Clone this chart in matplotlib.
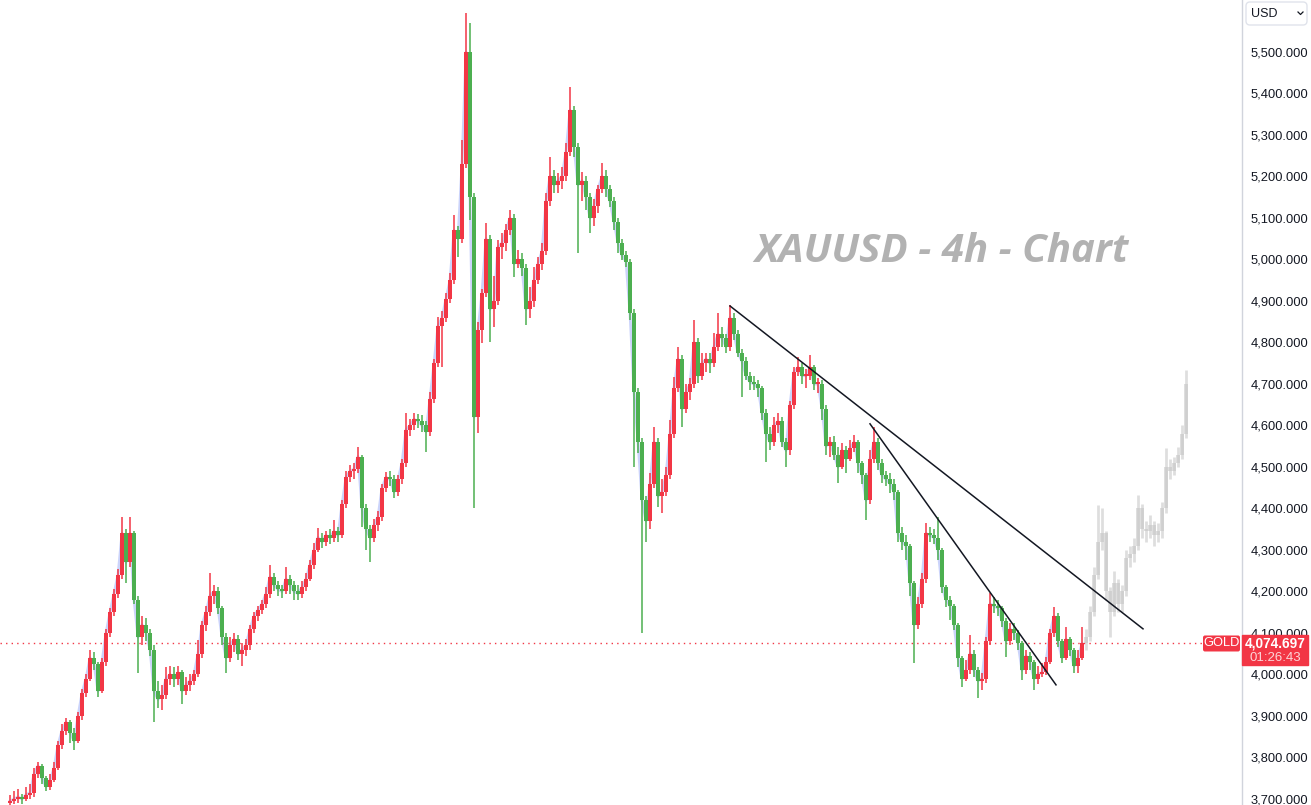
import numpy as np
import matplotlib
matplotlib.use('Agg')
import matplotlib.pyplot as plt
from matplotlib.patches import Rectangle, FancyBboxPatch
from matplotlib.lines import Line2D
from matplotlib.transforms import IdentityTransform

plt.rcParams['font.family'] = ['Liberation Sans', 'DejaVu Sans']

# 4h candles, open = previous close
first_open = 3690
closes = [3695, 3700, 3705, 3700, 3710, 3715, 3760, 3780, 3750, 3730,
          3745, 3775, 3830, 3865, 3885, 3860, 3840, 3900, 3955, 3990,
          4040, 4025, 3960, 4030, 4100, 4150, 4195, 4240, 4340, 4270,
          4340, 4180, 4090, 4120, 4100, 4060, 3960, 3940, 3950, 3990,
          4000, 3990, 4005, 3960, 3975, 3985, 4000, 4050, 4120, 4150,
          4190, 4200, 4160, 4090, 4040, 4070, 4085, 4050, 4060, 4070,
          4110, 4140, 4155, 4170, 4195, 4235, 4215, 4205, 4200, 4230,
          4215, 4200, 4195, 4210, 4230, 4265, 4300, 4330, 4320, 4335,
          4330, 4345, 4335, 4410, 4475, 4490, 4495, 4525, 4400, 4350,
          4330, 4360, 4380, 4450, 4475, 4470, 4440, 4470, 4510, 4590,
          4600, 4615, 4610, 4600, 4585, 4665, 4750, 4840, 4860, 4905,
          4950, 5070, 5050, 5230, 5500, 5150, 4620, 4830, 4920, 5050,
          4880, 4900, 5030, 5040, 5070, 5100, 4990, 5000, 4980, 4880,
          4900, 4950, 4990, 5020, 5140, 5200, 5180, 5190, 5200, 5260,
          5360, 5270, 5180, 5190, 5150, 5100, 5130, 5170, 5200, 5170,
          5140, 5090, 5040, 5010, 4995, 4870, 4680, 4560, 4420, 4370,
          4460, 4560, 4430, 4440, 4480, 4580, 4690, 4760, 4640, 4680,
          4700, 4800, 4720, 4750, 4760, 4750, 4790, 4820, 4810, 4790,
          4860, 4820, 4775, 4755, 4720, 4705, 4700, 4690, 4630, 4580,
          4560, 4600, 4610, 4560, 4540, 4650, 4730, 4740, 4720, 4720,
          4740, 4700, 4700, 4640, 4550, 4560, 4530, 4500, 4540, 4520,
          4545, 4560, 4510, 4480, 4420, 4520, 4560, 4510, 4480, 4470,
          4460, 4440, 4340, 4320, 4310, 4220, 4120, 4170, 4230, 4340,
          4335, 4330, 4300, 4210, 4180, 4165, 4120, 4040, 3990, 4010,
          4050, 4010, 3985, 3990, 4080, 4170, 4165, 4160, 4130, 4080,
          4110, 4100, 4075, 4010, 4045, 4030, 3990, 4000, 4005, 4030,
          4100, 4140, 4080, 4040, 4085, 4060, 4020, 4040, 4074.697]
highs = [3710, 3720, 3725, 3712, 3730, 3735, 3775, 3790, 3785, 3755,
         3760, 3790, 3840, 3880, 3895, 3890, 3870, 3910, 3965, 4000,
         4059, 4055, 4030, 4040, 4110, 4160, 4205, 4255, 4380, 4350,
         4380, 4345, 4190, 4140, 4135, 4110, 4070, 3985, 3975, 4018,
         4020, 4018, 4020, 4012, 3995, 4000, 4010, 4083, 4130, 4165,
         4244, 4215, 4210, 4165, 4100, 4090, 4100, 4095, 4076, 4085,
         4120, 4150, 4165, 4180, 4210, 4263, 4245, 4225, 4215, 4259,
         4240, 4225, 4215, 4225, 4245, 4276, 4317, 4353, 4340, 4345,
         4350, 4373, 4355, 4420, 4490, 4505, 4510, 4548, 4530, 4410,
         4360, 4375, 4395, 4460, 4487, 4490, 4480, 4480, 4520, 4630,
         4615, 4630, 4628, 4625, 4610, 4680, 4760, 4862, 4875, 4920,
         4967, 5107, 5080, 5288, 5594, 5570, 5160, 4850, 4930, 5088,
         5060, 4960, 5047, 5064, 5085, 5119, 5110, 5023, 5015, 4990,
         4933, 4982, 5005, 5040, 5160, 5247, 5215, 5209, 5223, 5280,
         5416, 5370, 5280, 5210, 5200, 5160, 5145, 5180, 5232, 5215,
         5180, 5150, 5100, 5050, 5020, 5000, 4880, 4690, 4570, 4430,
         4485, 4596, 4570, 4470, 4500, 4613, 4717, 4790, 4770, 4700,
         4715, 4854, 4810, 4774, 4775, 4775, 4823, 4871, 4837, 4820,
         4890, 4870, 4830, 4785, 4765, 4730, 4720, 4710, 4695, 4640,
         4596, 4620, 4630, 4620, 4570, 4660, 4741, 4765, 4750, 4735,
         4770, 4745, 4715, 4710, 4650, 4572, 4575, 4548, 4558, 4550,
         4565, 4577, 4565, 4515, 4485, 4541, 4596, 4570, 4520, 4490,
         4485, 4470, 4445, 4356, 4335, 4315, 4225, 4187, 4245, 4365,
         4356, 4350, 4380, 4305, 4215, 4190, 4170, 4125, 4045, 4035,
         4095, 4060, 4018, 4003, 4090, 4196, 4187, 4180, 4165, 4135,
         4124, 4125, 4107, 4080, 4060, 4055, 4035, 4020, 4028, 4042,
         4110, 4163, 4148, 4085, 4115, 4090, 4065, 4060, 4115]
lows = [3685, 3688, 3690, 3688, 3695, 3700, 3705, 3750, 3735, 3720,
        3722, 3740, 3770, 3820, 3855, 3835, 3818, 3835, 3890, 3945,
        3985, 4010, 3946, 3955, 4020, 4090, 4140, 4185, 4230, 4220,
        4260, 4170, 4004, 4070, 4080, 4045, 3886, 3920, 3915, 3940,
        3975, 3970, 3975, 3930, 3950, 3960, 3975, 3995, 4040, 4105,
        4140, 4170, 4145, 4070, 4004, 4030, 4055, 4035, 4020, 4045,
        4060, 4100, 4130, 4145, 4160, 4185, 4200, 4190, 4185, 4195,
        4195, 4180, 4180, 4185, 4200, 4225, 4255, 4295, 4305, 4310,
        4315, 4320, 4320, 4330, 4400, 4465, 4470, 4485, 4356, 4300,
        4271, 4320, 4345, 4370, 4440, 4455, 4425, 4430, 4460, 4500,
        4575, 4590, 4595, 4585, 4536, 4575, 4655, 4740, 4740, 4850,
        4895, 4940, 5006, 5040, 5220, 5095, 4401, 4582, 4798, 4910,
        4800, 4837, 4890, 5000, 5020, 5060, 4958, 4980, 4960, 4842,
        4860, 4886, 4940, 4975, 5010, 5130, 5160, 5160, 5170, 5190,
        5250, 5247, 5016, 5140, 5120, 5064, 5080, 5112, 5160, 5150,
        5127, 5071, 5016, 4998, 4982, 4854, 4500, 4533, 4100, 4320,
        4350, 4450, 4404, 4389, 4430, 4470, 4570, 4680, 4596, 4630,
        4661, 4690, 4702, 4710, 4730, 4726, 4740, 4780, 4790, 4774,
        4780, 4806, 4765, 4669, 4710, 4685, 4685, 4669, 4613, 4512,
        4540, 4550, 4582, 4548, 4500, 4530, 4640, 4720, 4700, 4690,
        4710, 4685, 4678, 4613, 4530, 4524, 4517, 4461, 4495, 4485,
        4515, 4535, 4485, 4460, 4373, 4410, 4510, 4493, 4461, 4455,
        4437, 4420, 4320, 4300, 4276, 4190, 4028, 4110, 4160, 4220,
        4320, 4315, 4276, 4196, 4163, 4131, 4107, 4018, 3970, 3985,
        4000, 3994, 3943, 3962, 3980, 4070, 4148, 4140, 4115, 4042,
        4070, 4083, 4060, 3987, 4000, 4010, 3962, 3978, 3994, 3998,
        4025, 4090, 4066, 4028, 4035, 4045, 4003, 4003, 4035]

# faded projection drawn after the last candle
proj_closes = [4090, 4150, 4240, 4320, 4340, 4200, 4150, 4220, 4170, 4200,
               4280, 4290, 4310, 4400, 4350, 4345, 4360, 4335, 4345, 4400,
               4500, 4490, 4510, 4530, 4580, 4700]
proj_highs = [4110, 4165, 4260, 4408, 4400, 4345, 4210, 4250, 4230, 4215,
              4300, 4310, 4330, 4433, 4410, 4370, 4385, 4370, 4365, 4415,
              4545, 4520, 4525, 4548, 4600, 4734]
proj_lows = [4060, 4080, 4140, 4230, 4300, 4180, 4090, 4140, 4150, 4150,
             4190, 4260, 4270, 4300, 4330, 4320, 4330, 4310, 4320, 4330,
             4390, 4470, 4480, 4500, 4520, 4570]

# trend lines: (candle index, price)
trend_a = [(180, 4888), (283.25, 4110)]
trend_b = [(215, 4604), (261.5, 3975)]

price_ticks = [3700, 3800, 3900, 4000, 4100, 4200, 4300, 4400, 4500,
               4600, 4700, 4800, 4900, 5000, 5100, 5200, 5300, 5400, 5500]
last_price = 4074.697
countdown = '01:26:43'
symbol = 'GOLD'
currency = 'USD'
watermark = 'XAUUSD - 4h - Chart'

RED = '#f23645'
GREEN = '#4caf50'
W, H = 1311, 805

fig = plt.figure(figsize=(W / 100, H / 100), dpi=100)
ax = fig.add_axes([0, 0, 1242 / W, 1])

c = np.array(closes, dtype=float)
o = np.r_[first_open, c[:-1]]
idx = np.arange(len(c))
col = np.where(c >= o, RED, GREEN)

ax.plot(idx, c, color='#8c9ff5', alpha=0.45, lw=2, zorder=2)
ax.vlines(idx, lows, highs, colors=col, lw=1.1, zorder=3)
ax.bar(idx, np.maximum(np.abs(c - o), 4), bottom=np.minimum(o, c), width=0.8,
       color=col, linewidth=0, zorder=3)

pc = np.array(proj_closes, dtype=float)
po = np.r_[c[-1], pc[:-1]]
pidx = len(c) + np.arange(len(pc))
ax.vlines(pidx, proj_lows, proj_highs, colors='#c4c4c4', alpha=0.55, lw=2, zorder=2)
ax.bar(pidx, np.maximum(np.abs(pc - po), 4), bottom=np.minimum(po, pc), width=1.0,
       color='#c4c4c4', alpha=0.55, linewidth=0, zorder=2)

for tl in (trend_a, trend_b):
    ax.plot([tl[0][0], tl[1][0]], [tl[0][1], tl[1][1]], color='#131722', lw=1.1, zorder=4)

ax.axhline(last_price, xmax=1202 / 1242, color=RED, lw=1, ls=(0, (1, 3)), zorder=1)

ax.text(0.7577, 0.687, watermark, transform=ax.transAxes, ha='center', va='center',
        fontsize=29, color='#b2b2b2', fontweight='bold', fontstyle='italic',
        family=['Open Sans', 'DejaVu Sans'], zorder=1)

ax.set_xlim(-2.5, 308)
ax.set_ylim(3685.5, 5625.3)
ax.set_xticks([])
ax.yaxis.tick_right()
ax.set_yticks(price_ticks)
ax.set_yticklabels([f'{v:,.3f}' for v in price_ticks])
ax.tick_params(axis='y', length=0, pad=6.5, labelsize=9.3, labelcolor='#131722')
for s in ('top', 'left', 'bottom'):
    ax.spines[s].set_visible(False)
ax.spines['right'].set_color('#d1d4dc')
ax.spines['right'].set_linewidth(1)

# last price marker on the scale (covers the lower half of the 4,100 label, as in the original)
fig.canvas.draw()
yp = ax.transData.transform((0, last_price))[1]
ident = IdentityTransform()
fig.add_artist(Rectangle((1242, yp - 22), 66, 30, transform=ident, color=RED, zorder=5))
fig.text(1275, yp - 0.5, f'{last_price:,.3f}', transform=ident, ha='center', va='center',
         color='white', fontsize=9.8, fontweight='bold', zorder=6)
fig.text(1275, yp - 14.5, countdown, transform=ident, ha='center', va='center',
         color='#fcd5d8', fontsize=9.5, zorder=6)
fig.add_artist(FancyBboxPatch((1203, yp - 8), 37, 16, boxstyle='round,pad=0,rounding_size=2',
                              transform=ident, fc=RED, ec='none', zorder=5))
fig.text(1221.5, yp, symbol, transform=ident, ha='center', va='center',
         color='white', fontsize=9.3, zorder=6)

# currency selector
fig.add_artist(FancyBboxPatch((1246, H - 25), 61, 23, boxstyle='round,pad=0,rounding_size=4',
                              transform=ident, fc='white', ec='#e0e3eb', lw=1, zorder=5))
fig.text(1251, H - 13.5, currency, transform=ident, ha='left', va='center',
         color='#131722', fontsize=9, zorder=6)
fig.add_artist(Line2D([1298, 1300.5, 1303], [H - 12, H - 14.5, H - 12], transform=ident,
                      color='#131722', lw=0.9, zorder=6))

fig.savefig('out.png', dpi=100)
